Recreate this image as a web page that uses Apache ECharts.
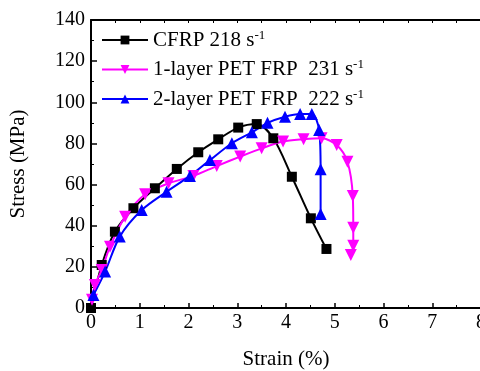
<!DOCTYPE html>
<html>
<head>
<meta charset="utf-8">
<script src="https://cdn.jsdelivr.net/npm/echarts@6/dist/echarts.min.js"></script>
<style>
  html, body { margin: 0; padding: 0; background: #fff; }
  #chart { width: 480px; height: 371px; }
</style>
</head>
<body>
<div id="chart"></div>
<script>
// strain (%) / stress (MPa) pairs
const cfrpStrain = [0, 0.22, 0.49, 0.87, 1.31, 1.76, 2.2, 2.61, 3.02, 3.4, 3.74, 4.12, 4.51, 4.83];
const cfrpStress = [0, 20.9, 37.1, 48.5, 58.2, 67.6, 75.7, 82.0, 87.7, 89.4, 82.5, 63.8, 43.6, 28.7];

const pet1Strain = [0.02, 0.08, 0.22, 0.39, 0.7, 1.11, 1.59, 2.1, 2.58, 3.06, 3.5, 3.94, 4.36, 4.73, 5.04, 5.26, 5.37, 5.38, 5.38, 5.33];
const pet1Stress = [4, 11.2, 18.5, 29.8, 44.4, 55.3, 60.6, 64.2, 69.0, 73.6, 77.6, 80.9, 82.0, 82.5, 79.2, 71.1, 54.4, 39.0, 30.3, 25.8];

const pet2Strain = [0.05, 0.29, 0.59, 1.04, 1.55, 2.03, 2.44, 2.89, 3.3, 3.62, 3.98, 4.29, 4.53, 4.68, 4.71, 4.71];
const pet2Stress = [6.3, 17.7, 34.7, 47.6, 56.5, 64.2, 71.9, 80.1, 85.4, 90.0, 93.0, 94.3, 94.3, 86.5, 67.4, 45.7];

const seriesNames = ['CFRP 218 s{sup|-1}', '1-layer PET FRP  231 s{sup|-1}', '2-layer PET FRP  222 s{sup|-1}'];
const seriesColors = ['#000000', '#ff00ff', '#0000ff'];

function pairs(xs, ys) {
    return xs.map((x, i) => [x, ys[i]]);
}

const font = 'Liberation Serif';
const chart = echarts.init(document.getElementById('chart'), undefined, { renderer: 'canvas' });

const axisLine = { lineStyle: { color: '#000', width: 2 } };

chart.setOption({
    animation: false,
    textStyle: { fontFamily: font },
    grid: { left: 91, top: 20, right: -1, bottom: 63, outerBoundsMode: 'none' },
    legend: {
        left: 96,
        top: 24,
        orient: 'vertical',
        itemWidth: 46,
        itemHeight: 11,
        itemGap: 8,
        data: seriesNames,
        textStyle: {
            fontFamily: font,
            fontSize: 21,
            color: '#000',
            rich: { sup: { fontFamily: font, fontSize: 13, verticalAlign: 'top', padding: [0, 0, 9, 0] } }
        }
    },
    xAxis: [{
        type: 'value',
        min: 0, max: 8, interval: 1,
        name: 'Strain (%)',
        nameLocation: 'middle',
        nameGap: 41,
        nameTextStyle: { fontFamily: font, fontSize: 21, color: '#000' },
        axisLine: axisLine,
        axisTick: { inside: true, length: 5, lineStyle: { width: 1.5, color: '#000' } },
        minorTick: { show: true, splitNumber: 2, length: 3, lineStyle: { color: '#000' } },
        axisLabel: { fontFamily: font, fontSize: 20, color: '#000', margin: 5 },
        splitLine: { show: false }
    }, {
        type: 'value',
        position: 'top',
        min: 0, max: 8, interval: 1,
        axisLine: axisLine,
        axisTick: { inside: true, length: 3, lineStyle: { color: '#000' } },
        minorTick: { show: true, splitNumber: 2, length: 3, lineStyle: { color: '#000' } },
        axisLabel: { show: false },
        splitLine: { show: false }
    }],
    yAxis: {
        type: 'value',
        min: 0, max: 140, interval: 20,
        name: 'Stress (MPa)',
        nameLocation: 'middle',
        nameGap: 62,
        nameTextStyle: { fontFamily: font, fontSize: 21, color: '#000' },
        axisLine: axisLine,
        axisTick: { inside: true, length: 6, lineStyle: { width: 1.5, color: '#000' } },
        minorTick: { show: true, splitNumber: 2, length: 3, lineStyle: { color: '#000' } },
        axisLabel: { fontFamily: font, fontSize: 20, color: '#000', margin: 6 },
        splitLine: { show: false }
    },
    series: [{
        name: seriesNames[0],
        type: 'line',
        data: pairs(cfrpStrain, cfrpStress),
        smooth: 0.3,
        symbol: 'rect',
        symbolSize: 10,
        color: seriesColors[0],
        lineStyle: { width: 2 }
    }, {
        name: seriesNames[1],
        type: 'line',
        data: pairs(pet1Strain, pet1Stress),
        smooth: 0.3,
        symbol: 'triangle',
        symbolRotate: 180,
        symbolSize: 12,
        color: seriesColors[1],
        lineStyle: { width: 2 }
    }, {
        name: seriesNames[2],
        type: 'line',
        data: pairs(pet2Strain, pet2Stress),
        smooth: 0.3,
        symbol: 'triangle',
        symbolSize: 12,
        color: seriesColors[2],
        lineStyle: { width: 2 }
    }]
});
</script>
</body>
</html>
